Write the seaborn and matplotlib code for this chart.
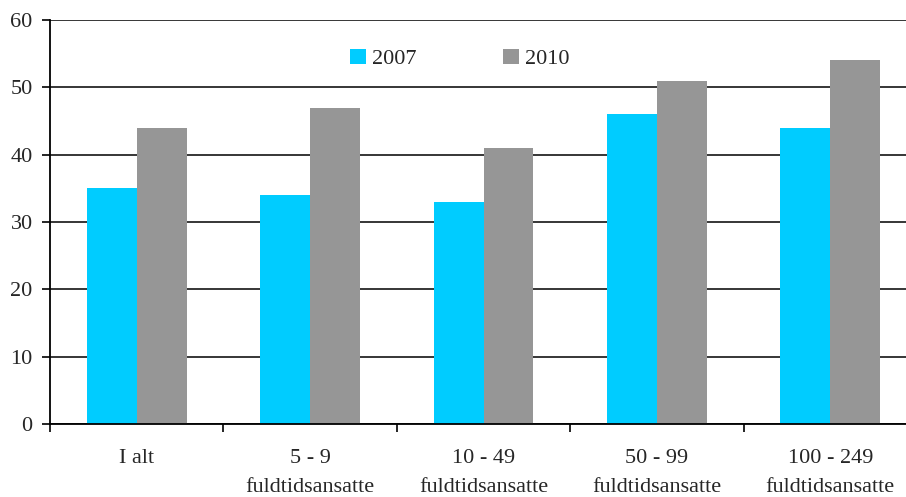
import matplotlib
matplotlib.use("Agg")
import matplotlib.pyplot as plt
import seaborn as sns
import pandas as pd
from matplotlib.patches import Patch
from matplotlib.ticker import FixedLocator

categories = ["I alt", "5 - 9\nfuldtidsansatte", "10 - 49\nfuldtidsansatte",
              "50 - 99\nfuldtidsansatte", "100 - 249\nfuldtidsansatte"]
years = ["2007", "2010"]
values_2007 = [35, 34, 33, 46, 44]
values_2010 = [44, 47, 41, 51, 54]
colors = ["#00CCFF", "#969696"]

df = pd.DataFrame({
    "kategori": categories * 2,
    "aar": [years[0]] * len(categories) + [years[1]] * len(categories),
    "andel": values_2007 + values_2010,
})

sns.set_style("white")
plt.rcParams["font.family"] = ["Liberation Serif", "DejaVu Serif"]
plt.rcParams["font.size"] = 16

fig = plt.figure(figsize=(9.06, 4.97), dpi=100)
W, H = 906, 497
ax = fig.add_axes([50 / W, (H - 424) / H, 867 / W, 404 / H])

sns.barplot(data=df, x="kategori", y="andel", hue="aar", palette=colors,
            order=categories, hue_order=years, width=0.576, saturation=1,
            ax=ax, legend=False, linewidth=0)

ax.set_ylim(0, 60)
ax.set_xlim(-0.5, len(categories) - 0.5)
ax.set_yticks(range(0, 61, 10))
ax.set_xlabel("")
ax.set_ylabel("")

# grid lines
ax.yaxis.grid(True, color="black", linewidth=1.1)
ax.set_axisbelow(True)

for side in ["top", "right"]:
    ax.spines[side].set_visible(False)
for side in ["left", "bottom"]:
    ax.spines[side].set_color("black")
    ax.spines[side].set_linewidth(1.3)

ax.tick_params(axis="y", direction="out", length=5.5, width=1.2, color="black",
               pad=7, labelsize=16, left=True)
# category labels without ticks; ticks at group boundaries
ax.tick_params(axis="x", which="major", length=0, pad=18, labelsize=16)
ax.xaxis.set_minor_locator(FixedLocator([i - 0.5 for i in range(len(categories) + 1)]))
ax.tick_params(axis="x", which="minor", direction="out", length=5.5, width=1.2,
               color="black", bottom=True)
for lbl in ax.get_xticklabels():
    lbl.set_linespacing(1.74)
    lbl.set_verticalalignment("top")

handles = [Patch(facecolor=c, edgecolor="none", label=y) for c, y in zip(colors, years)]
ax.legend(handles=handles, ncol=2, loc="center", bbox_to_anchor=(0.473, 0.903),
          frameon=False, handlelength=0.68, handleheight=0.68, handletextpad=0.3,
          columnspacing=3.9, fontsize=16)

fig.savefig("out.png", dpi=100)
